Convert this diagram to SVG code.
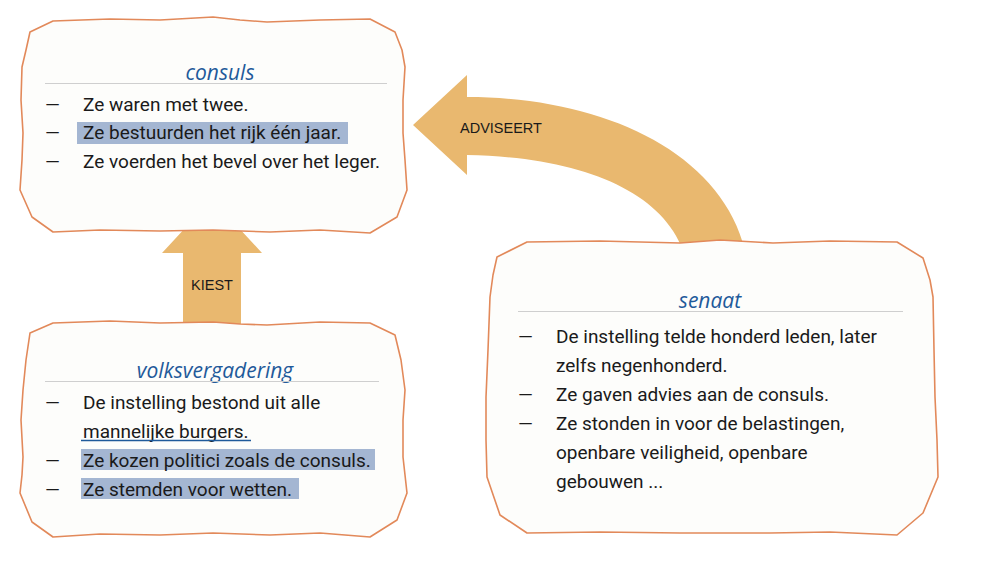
<svg xmlns="http://www.w3.org/2000/svg" width="984" height="586" viewBox="0 0 984 586">
<style>
.box{fill:#FDFDFB;stroke:#E2895A;stroke-width:1.6;stroke-linejoin:round}
.arrow{fill:#E9B86F}
.title{font-family:"Open Sans","Noto Sans",sans-serif;font-style:italic;font-size:21px;fill:#1F5A9A;text-anchor:middle}
.rule{stroke:#CFCFCF;stroke-width:1.2}
.t{font-family:Roboto,"Liberation Sans",sans-serif;font-size:19px;fill:#1A1A1A}
.lbl{font-family:"Liberation Sans",Arial,sans-serif;font-size:14.5px;fill:#1A1A1A}
.hl{fill:#A4B6D2}
</style>
<g id="connectors">
<path id="kiest" class="arrow" d="M212,199 L262,253 L241,253 L241,330 L183,330 L183,253 L162,253 Z"/>
<text class="lbl" x="212" y="290" text-anchor="middle">KIEST</text>
<path id="adviseert" class="arrow" d="M413,125 L467,75 L467,97 C600,97 720,150 745,250 L683,250 C660,190 580,157 467,155 L467,175 Z"/>
<text class="lbl" x="460" y="133">ADVISEERT</text>
</g>
<g id="consuls">
<polygon class="box" points="30,32 53,21 110,19 160,20 213,17 240,20 267,22 320,20 370,19 395,32 402,50 405,67 403,100 403,133 405,160 407,190 397,217 370,233 320,230 270,232 213,230 160,231 100,230 53,232 32,217 20,190 22,160 23,133 21,100 22,67 26,50"/>
<text class="title" x="220" y="80">consuls</text>
<line class="rule" x1="45" y1="83.5" x2="387" y2="83.5"/>
<rect class="hl" x="77" y="122" width="271" height="22"/>
<text class="t" x="45" y="111">—</text><text class="t" x="83" y="111">Ze waren met twee.</text>
<text class="t" x="45" y="139">—</text><text class="t" x="83" y="139">Ze bestuurden het rijk één jaar.</text>
<text class="t" x="45" y="168">—</text><text class="t" x="83" y="168">Ze voerden het bevel over het leger.</text>
</g>
<g id="volksvergadering">
<polygon class="box" points="30,333 53,323 110,321 160,323 213,322 240,324 267,325 320,322 370,323 395,335 401,360 405,390 403,420 403,457 405,475 407,493 397,520 370,537 320,533 270,535 213,533 160,535 100,534 53,537 32,522 20,493 22,475 23,457 21,420 23,390 26,360"/>
<text class="title" x="215" y="378">volksvergadering</text>
<line class="rule" x1="45" y1="381.5" x2="379" y2="381.5"/>
<rect class="hl" x="81" y="449" width="294" height="21"/>
<rect class="hl" x="81" y="478" width="218" height="21"/>
<text class="t" x="45" y="409">—</text><text class="t" x="83" y="409">De instelling bestond uit alle</text>
<text class="t" x="83" y="438">mannelijke burgers.</text>
<line x1="81" y1="440.5" x2="251" y2="440.5" stroke="#1F5A9A" stroke-width="1.6"/>
<text class="t" x="45" y="467">—</text><text class="t" x="83" y="467">Ze kozen politici zoals de consuls.</text>
<text class="t" x="45" y="496">—</text><text class="t" x="83" y="496">Ze stemden voor wetten.</text>
</g>
<g id="senaat">
<polygon class="box" points="497,257 527,242 600,241 680,243 720,240 773,243 830,241 897,242 923,258 930,280 933,297 934,350 935,397 937,440 938,477 923,513 897,535 830,532 770,533 680,533 600,532 527,533 500,515 487,477 486,440 486,397 488,350 490,297 493,275"/>
<text class="title" x="710" y="308">senaat</text>
<line class="rule" x1="518" y1="311.5" x2="903" y2="311.5" stroke="#B5B5B5"/>
<text class="t" x="518" y="343">—</text><text class="t" x="556" y="343">De instelling telde honderd leden, later</text>
<text class="t" x="556" y="372">zelfs negenhonderd.</text>
<text class="t" x="518" y="401">—</text><text class="t" x="556" y="401">Ze gaven advies aan de consuls.</text>
<text class="t" x="518" y="430">—</text><text class="t" x="556" y="430">Ze stonden in voor de belastingen,</text>
<text class="t" x="556" y="459">openbare veiligheid, openbare</text>
<text class="t" x="556" y="488">gebouwen ...</text>
</g>
</svg>
